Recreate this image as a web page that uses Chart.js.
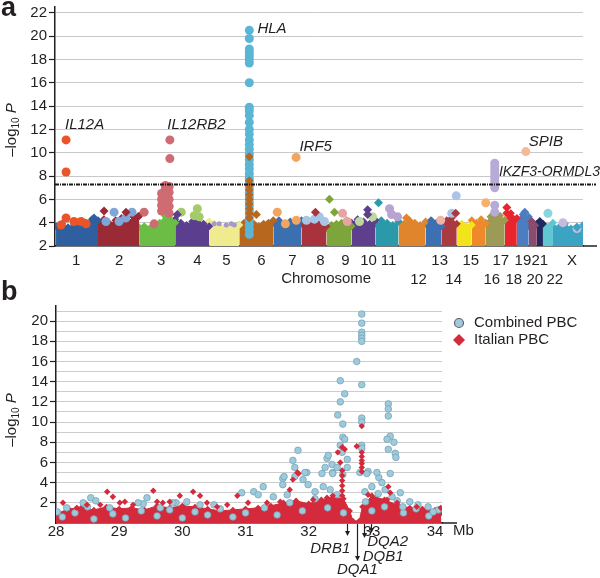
<!DOCTYPE html>
<html>
<head>
<meta charset="utf-8">
<script src="https://cdn.jsdelivr.net/npm/chart.js@4.4.1/dist/chart.umd.min.js"></script>
<style>
  html, body { margin: 0; padding: 0; background: #fff; }
  #wrap { position: relative; width: 600px; height: 578px; overflow: hidden; }
  canvas { position: absolute; left: 0; }
  #manhattan { top: 0; }
  #regional { top: 278px; }
</style>
</head>
<body>
<div id="wrap">
  <canvas id="manhattan" width="600" height="300"></canvas>
  <canvas id="regional" width="600" height="300"></canvas>
</div>
<script>
const FONT = '"Liberation Sans", Arial, Helvetica, sans-serif';
const INK = '#231f20';

// ---------- panel a : genome-wide scan ----------
const chromLabels = ['1','2','3','4','5','6','7','8','9','10','11','12','13','14','15','16','17','18','19','20','21','22','X'];
const secondRow = ['12','14','16','18','20','22'];
// cumulative start of each chromosome (last entry = end of X), genome units
const chromStart = [6, 249, 487, 696, 893, 1067, 1264, 1427, 1572, 1717, 1856, 1989, 2146, 2239, 2326, 2413, 2494, 2604, 2674, 2743, 2790, 2825, 2883, 3057];
const chromTickPos = [122, 371, 615, 824, 992, 1195, 1375, 1537, 1682, 1815, 1931, 2105, 2227, 2308, 2407, 2529, 2581, 2656, 2709, 2778, 2807, 2894, 2993];
// top of the dense band of each chromosome, read left to right
const massTops = [
  [3.7, 3.9, 3.6, 3.8, 3.7, 4.0, 4.3, 4.2],
  [4.0, 4.3, 3.9, 4.2, 4.4, 4.0, 4.5, 4.6],
  [3.6, 3.7, 3.5, 3.8, 4.0, 4.6, 4.7, 4.0],
  [4.3, 4.0, 3.8, 4.1, 4.2, 3.9, 3.7],
  [4.1, 3.9, 3.7, 3.6, 3.6, 3.7, 3.8],
  [3.8, 4.0, 4.3, 3.9, 3.7, 3.9, 4.0, 4.2],
  [4.0, 4.2, 3.9, 4.1, 3.8, 4.2],
  [3.9, 4.1, 3.8, 4.0, 4.3, 3.7],
  [3.5, 3.8, 3.9, 4.0, 4.2, 3.7],
  [4.0, 4.3, 4.1, 3.9, 4.2],
  [3.9, 4.2, 4.0, 3.8, 4.1],
  [4.1, 3.9, 4.2, 4.0, 3.8, 4.1],
  [3.9, 4.2, 4.0, 3.7],
  [3.8, 4.2, 4.4, 3.9],
  [3.8, 3.9, 3.7, 3.8],
  [4.2, 4.0, 4.3, 3.9],
  [4.0, 4.5, 4.8, 4.6, 4.2],
  [4.2, 4.8, 4.4],
  [4.3, 4.7, 4.5],
  [3.7, 3.9],
  [3.8, 3.9],
  [3.8, 4.0],
  [3.7, 3.6, 3.9, 3.5, 3.6, 3.8]
];
// [chromosome, position inside chromosome, -log10 P]
const combinedHits = [
  [1, 58, 11.1], [1, 58, 8.35], [1, 29, 3.8], [1, 58, 4.4], [1, 104, 4.1], [1, 145, 4.1], [1, 174, 3.9],
  [2, 93, 4.9], [2, 197, 4.9], [2, 122, 4.1], [2, 46, 4.1], [2, 160, 4.4],
  [3, 178, 11.1], [3, 178, 9.5],
  [3, 130, 5.0], [3, 130, 5.5], [3, 130, 6.0], [3, 130, 6.5],
  [3, 152, 5.2], [3, 152, 5.8], [3, 152, 6.4], [3, 152, 6.9], [3, 152, 7.2],
  [3, 174, 4.8], [3, 174, 5.4], [3, 174, 6.0], [3, 174, 6.6], [3, 174, 7.1],
  [3, 29, 4.9], [3, 87, 3.9],
  [4, 128, 5.2], [4, 139, 4.5], [4, 35, 4.9], [4, 110, 4.6],
  [5, 29, 3.9], [5, 58, 3.9], [5, 99, 3.8], [5, 128, 3.9], [5, 145, 3.8],
  [6, 58, 20.5], [6, 58, 19.8], [6, 58, 18.9], [6, 58, 18.6], [6, 58, 18.3], [6, 58, 18.0], [6, 58, 17.7],
  [6, 58, 16.0], [6, 58, 13.9], [6, 58, 13.6], [6, 58, 13.2], [6, 58, 12.6], [6, 58, 12.0], [6, 58, 11.6],
  [6, 58, 11.1], [6, 58, 10.7], [6, 58, 10.3], [6, 58, 9.9], [6, 58, 9.4], [6, 58, 9.0], [6, 58, 8.6],
  [6, 58, 8.2], [6, 58, 7.8], [6, 58, 7.4], [6, 58, 7.0], [6, 58, 6.6], [6, 58, 6.2], [6, 58, 5.8],
  [6, 58, 5.4], [6, 58, 5.0], [6, 58, 4.6], [6, 58, 4.2], [6, 58, 3.8], [6, 58, 3.4], [6, 58, 3.0],
  [7, 132, 9.6], [7, 23, 4.9], [7, 133, 4.2], [7, 70, 3.9],
  [8, 29, 4.2], [8, 104, 4.5], [8, 133, 4.1], [8, 75, 4.3],
  [9, 93, 4.8], [9, 120, 4.1],
  [10, 122, 4.5], [10, 46, 4.1],
  [11, 81, 5.2], [11, 93, 4.7], [11, 128, 4.5],
  [13, 87, 4.2],
  [14, 84, 6.3], [14, 58, 4.8],
  [16, 81, 5.7],
  [17, 52, 9.1], [17, 52, 8.8], [17, 52, 8.5], [17, 52, 8.2], [17, 52, 7.9], [17, 52, 7.6], [17, 52, 7.3], [17, 52, 7.0],
  [17, 52, 5.5], [17, 52, 4.9],
  [19, 52, 10.1],
  [22, 29, 4.8],
  [23, 58, 4.0], [23, 139, 3.5]
];
const italianHits = [
  [1, 220, 4.4], [2, 35, 5.0], [2, 162, 4.9], [2, 232, 4.5], [4, 12, 4.7],
  [6, 58, 9.65], [6, 58, 7.6], [6, 58, 7.2], [6, 58, 6.8], [6, 58, 6.4], [6, 58, 6.0], [6, 58, 5.6],
  [6, 58, 5.2], [6, 58, 4.8], [6, 58, 4.4], [6, 99, 4.7],
  [8, 81, 4.9], [9, 17, 6.0], [9, 46, 4.9], [10, 93, 5.1], [10, 93, 4.7], [11, 17, 5.7],
  [12, 46, 4.4], [13, 35, 4.1], [14, 81, 4.8], [18, 12, 5.3], [18, 12, 4.8], [19, 46, 4.9],
  [20, 17, 4.1], [21, 17, 4.1], [23, 139, 3.6]
];
const gwThreshold = 7.3;
// [gene, x (genome units), y (-log10 P)] anchors of the italic gene names
const geneLabelsA = [
  ['IL12A', 58, 12.4], ['IL12RB2', 650, 12.4], ['HLA', 1172, 20.6],
  ['IRF5', 1415, 10.5], ['SPIB', 2743, 10.9], ['IKZF3-ORMDL3', 2570, 8.35]
];

const darkColors = ['#2f5f9e','#9b2a37','#6cbd46','#5b3f8e','#efeb8e','#b8671f','#3b70b0','#a8333d','#7ea53c','#5e3f8e','#2a9aaa','#e0852b','#3c70b3','#a93a40','#f3e31c','#ef8a2a','#9d9a55','#e8252c','#4b7dc0','#8b4b6f','#1f2b5f','#60c6d2','#3ba4c3'];
const lightColors = ['#ea5428','#7ea6d8','#cf6b73','#a5ca6a','#a597cf','#5bb5d5','#f3a45e','#a9c5e5','#e8a3a2','#bcd8a0','#b8a3d2','#f4c08a','#f0b3a6','#a9c4e4','#f7ee7a','#f6b06a','#b8aad7','#f3908f','#f5b996','#c9a0c0','#8e9cc8','#8ad6df','#c6badf'];

// ---------- panel b : MHC region ----------
const regionTicks = [28, 29, 30, 31, 32, 33, 34];
const regionMassMb  = [28.0, 28.2, 28.4, 28.6, 28.8, 29.0, 29.2, 29.4, 29.6, 29.8, 30.0, 30.2, 30.4, 30.6, 30.8, 31.0, 31.2, 31.4, 31.6, 31.8, 32.0, 32.2, 32.4, 32.55, 32.65, 32.7, 32.8, 32.85, 33.0, 33.2, 33.4, 33.6, 33.8, 34.0, 34.1];
const regionMassTop = [0.9, 1.4, 1.5, 1.3, 1.6, 1.4, 1.5, 1.3, 1.7, 1.5, 1.7, 1.6, 1.4, 1.2, 1.3, 1.4, 1.5, 1.7, 2.0, 2.2, 1.9, 2.3, 2.6, 2.4, 1.2, 0.2, 0.2, 1.6, 2.7, 2.3, 1.8, 1.5, 1.4, 1.3, 1.0];
// [Mb, -log10 P]
const regionCombined = [
  [28.55, 2.5], [28.63, 2.2], [28.45, 1.9], [29.38, 1.9], [29.44, 2.5], [29.3, 2.0], [29.9, 2.0], [30.07, 2.1],
  [30.5, 1.8], [30.94, 3.0], [31.13, 3.1], [31.28, 3.6], [31.2, 2.8], [31.44, 2.6], [31.59, 4.4], [31.59, 3.8],
  [31.61, 4.6], [31.78, 4.6], [31.75, 6.2], [31.83, 7.2], [31.78, 5.5], [32.21, 4.9], [32.38, 5.0], [32.29, 6.4],
  [32.31, 6.7], [32.37, 5.8], [32.5, 7.7], [32.53, 7.0], [32.61, 6.3], [32.54, 9.8], [32.54, 8.5], [32.57, 8.3],
  [32.46, 10.7], [32.5, 12.0], [32.57, 12.8], [32.5, 14.1], [32.76, 16.0], [32.84, 20.7], [32.84, 19.8],
  [32.84, 18.9], [32.84, 18.6], [32.84, 18.3], [32.84, 18.0], [32.84, 13.7], [32.84, 10.4], [32.84, 10.0],
  [32.84, 7.7], [32.84, 7.4], [32.94, 5.1], [33.11, 4.5], [33.16, 4.0], [32.92, 4.9], [33.08, 5.0],
  [33.26, 11.8], [33.26, 11.3], [33.26, 10.6], [33.29, 8.6], [33.24, 8.3], [33.35, 8.0], [33.26, 7.3],
  [33.37, 6.9], [33.38, 6.5], [33.29, 4.9], [33.6, 2.1], [33.73, 1.8], [33.89, 1.6],
  [28.02, 1.1], [28.17, 1.5], [28.43, 2.0], [28.85, 1.5], [29.65, 1.5], [29.85, 2.0], [30.28, 1.8],
  [31.66, 2.8], [31.91, 4.3], [31.97, 5.0], [31.99, 3.8], [32.1, 3.1], [32.23, 3.6], [32.34, 3.3],
  [32.26, 5.5], [32.45, 5.5], [32.38, 4.9], [32.61, 5.5], [32.54, 4.8], [32.81, 5.0], [31.94, 5.0],
  [33.0, 3.6], [32.89, 3.1], [33.21, 3.3], [33.32, 2.6], [33.45, 3.0], [33.49, 1.6], [33.97, 1.1]
];
const regionCombinedLow = [
  [28.1, 0.6], [28.3, 1.0], [28.5, 1.6], [28.6, 0.4], [28.9, 0.9], [29.1, 0.5], [29.35, 1.2], [29.6, 0.7],
  [29.8, 1.3], [30.0, 0.5], [30.2, 1.1], [30.4, 0.8], [30.6, 1.4], [30.8, 0.6], [31.0, 1.0], [31.3, 1.5],
  [31.5, 0.8], [31.7, 2.0], [31.9, 1.2], [32.1, 2.4], [32.3, 1.5], [32.45, 2.8], [32.55, 1.0], [32.9, 2.1],
  [33.0, 1.2], [33.1, 2.9], [33.2, 1.6], [33.4, 2.2], [33.5, 1.0], [33.7, 1.4], [33.9, 0.7], [34.05, 1.3]
];
const regionItalian = [
  [28.11, 2.0], [28.33, 1.5], [28.49, 1.8], [28.7, 1.8], [28.81, 3.1], [28.9, 2.6], [29.01, 2.0], [29.09, 2.1],
  [29.22, 1.8], [29.54, 3.2], [29.6, 2.1], [29.69, 2.0], [29.8, 2.1], [29.96, 2.7], [30.17, 3.1], [30.28, 2.7],
  [30.39, 2.0], [30.55, 1.6], [30.71, 1.8], [30.87, 2.7], [31.04, 2.0], [31.34, 2.0], [31.55, 2.1], [31.7, 3.3],
  [31.75, 4.3], [31.82, 5.0], [31.84, 4.9], [32.07, 2.3], [32.29, 2.5], [32.38, 2.7],
  [32.53, 5.2], [32.53, 4.7], [32.53, 4.2], [32.53, 3.7], [32.53, 3.2], [32.53, 2.7],
  [32.46, 7.0], [32.53, 7.5], [32.57, 7.3], [32.5, 6.0], [32.76, 7.6], [32.84, 9.6],
  [32.84, 7.0], [32.84, 6.6], [32.84, 6.2], [32.84, 5.9], [32.84, 5.5], [32.84, 5.1],
  [32.94, 2.8], [33.05, 2.3], [33.26, 3.6], [33.29, 3.0], [33.24, 2.3], [33.4, 2.0], [33.71, 1.6], [34.09, 1.5]
];
const hlaGenes = [['DRB1', 32.61], ['DQA1', 32.77], ['DQB1', 32.87], ['DQA2', 32.99]];

const BLUE_FILL = '#9dcbdc', BLUE_EDGE = '#76a3b6', RED = '#d42a3c';

// draws "–log10 P" rotated, centred on (cx, cy)
function drawLogTitle(ctx, cx, cy) {
  const parts = [['\u2013log', '15px ' + FONT, 0], ['10', '10px ' + FONT, 4], [' P', 'italic 15px ' + FONT, 0]];
  ctx.save();
  ctx.translate(cx, cy);
  ctx.rotate(-Math.PI / 2);
  ctx.fillStyle = INK;
  ctx.textBaseline = 'middle';
  let w = 0;
  parts.forEach(p => { ctx.font = p[1]; w += ctx.measureText(p[0]).width; });
  let x = -w / 2;
  parts.forEach(p => { ctx.font = p[1]; ctx.fillText(p[0], x, p[2]); x += ctx.measureText(p[0]).width; });
  ctx.restore();
}

const manhattanDecor = {
  id: 'manhattanDecor',
  afterDatasetsDraw(chart) {
    const { ctx, chartArea, scales: { x, y } } = chart;
    ctx.save();
    ctx.strokeStyle = '#1a1a1a';
    ctx.lineWidth = 2;
    ctx.setLineDash([4, 1, 1, 1]);
    const ty = Math.round(y.getPixelForValue(gwThreshold)) + 0.5;
    ctx.beginPath(); ctx.moveTo(chartArea.left, ty); ctx.lineTo(596, ty); ctx.stroke();
    ctx.setLineDash([]);
    ctx.fillStyle = INK;
    ctx.textBaseline = 'middle';
    geneLabelsA.forEach(([t, gx, gy]) => {
      ctx.font = (t.length > 8 ? 'italic 14px ' : 'italic 15px ') + FONT;
      ctx.fillText(t, x.getPixelForValue(gx), y.getPixelForValue(gy));
    });
    ctx.restore();
  },
  afterDraw(chart) {
    const { ctx, chartArea, scales: { x } } = chart;
    ctx.save();
    ctx.strokeStyle = INK; ctx.lineWidth = 1.5;
    ctx.beginPath(); ctx.moveTo(chartArea.right, chartArea.bottom); ctx.lineTo(597, chartArea.bottom); ctx.stroke();
    ctx.fillStyle = INK;
    ctx.font = '15px ' + FONT;
    ctx.textAlign = 'center'; ctx.textBaseline = 'middle';
    ctx.fillText('Chromosome', x.getPixelForValue(1570), chartArea.bottom + 33);
    ctx.textAlign = 'left'; ctx.textBaseline = 'alphabetic';
    ctx.font = 'bold 27px ' + FONT;
    ctx.fillText('a', 1, 16);
    ctx.restore();
    drawLogTitle(ctx, 12, 130);
  }
};

const massSets = massTops.map((tops, c) => {
  const a = chromStart[c], b = chromStart[c + 1];
  return {
    type: 'line',
    data: tops.map((v, i) => ({ x: a + (b - a) * i / (tops.length - 1), y: v })),
    borderColor: darkColors[c],
    backgroundColor: darkColors[c],
    borderWidth: 1,
    fill: 'start',
    tension: 0,
    pointStyle: 'rectRot',
    pointRadius: 4,
    pointBackgroundColor: darkColors[c],
    pointBorderWidth: 0,
    order: 3
  };
});

const combinedSet = {
  data: combinedHits.map(([c, p, v]) => ({ x: chromStart[c - 1] + p, y: v })),
  pointStyle: 'circle',
  pointRadius: combinedHits.map(([c]) => c === 5 ? 2.5 : 4.5),
  backgroundColor: combinedHits.map(([c]) => lightColors[c - 1]),
  borderWidth: 0,
  order: 2
};
const italianSet = {
  data: italianHits.map(([c, p, v]) => ({ x: chromStart[c - 1] + p, y: v })),
  pointStyle: 'rectRot',
  pointRadius: 4.5,
  backgroundColor: italianHits.map(([c]) => darkColors[c - 1]),
  borderWidth: 0,
  order: 1
};

new Chart(document.getElementById('manhattan'), {
  type: 'scatter',
  data: { datasets: [italianSet, combinedSet, ...massSets] },
  options: {
    responsive: false,
    animation: false,
    events: [],
    layout: { padding: { left: 0, right: 17, top: 7, bottom: 0 } },
    plugins: { legend: { display: false }, tooltip: { enabled: false } },
    scales: {
      x: {
        type: 'linear', min: 0, max: chromStart[chromStart.length - 1],
        grid: { display: false, drawTicks: false },
        border: { color: INK, width: 1.5 },
        ticks: {
          autoSkip: false, maxRotation: 0, minRotation: 0, padding: 5, color: INK,
          font: { family: FONT, size: 15, lineHeight: 1.27 },
          callback: (v, i) => secondRow.includes(chromLabels[i]) ? ['', chromLabels[i]] : chromLabels[i]
        },
        afterBuildTicks: s => { s.ticks = chromTickPos.map(v => ({ value: v })); },
        afterFit: s => { s.height = 54; s.paddingLeft = 0; s.paddingRight = 0; }
      },
      y: {
        min: 2, max: 22.5,
        ticks: { stepSize: 2, includeBounds: false, padding: 2, color: INK, font: { family: FONT, size: 15 } },
        grid: { color: '#c9c9c9', lineWidth: 1, tickLength: 6, tickColor: INK, tickWidth: 1.2 },
        border: { color: INK, width: 1.5 },
        afterFit: s => { s.width = 55; s.paddingTop = 0; s.paddingBottom = 0; }
      }
    }
  },
  plugins: [manhattanDecor]
});

// ---------- panel b chart ----------
const regionDecor = {
  id: 'regionDecor',
  afterDraw(chart) {
    const { ctx, chartArea, scales: { x } } = chart;
    const base = chartArea.bottom;
    ctx.save();
    ctx.strokeStyle = INK; ctx.lineWidth = 1.5;
    ctx.beginPath(); ctx.moveTo(chartArea.right, base); ctx.lineTo(457, base); ctx.stroke();
    ctx.fillStyle = INK;
    ctx.font = '15px ' + FONT;
    ctx.textBaseline = 'middle';
    ctx.fillText('Mb', 453, base + 8);

    // gene arrows under the axis
    const arrowEnd = [12, 37, 14, 9];
    ctx.lineWidth = 1.2;
    hlaGenes.forEach(([g, mb], i) => {
      const gx = Math.round(x.getPixelForValue(mb)) + 0.5;
      const ey = base + arrowEnd[i];
      ctx.beginPath(); ctx.moveTo(gx, base + 1); ctx.lineTo(gx, ey - 3); ctx.stroke();
      ctx.beginPath(); ctx.moveTo(gx - 2.5, ey - 4); ctx.lineTo(gx + 2.5, ey - 4); ctx.lineTo(gx, ey + 1); ctx.closePath(); ctx.fill();
    });
    ctx.font = 'italic 15px ' + FONT;
    const px = hlaGenes.map(([, mb]) => x.getPixelForValue(mb));
    ctx.textAlign = 'right'; ctx.fillText('DRB1', px[0] + 3, base + 26);
    ctx.textAlign = 'center'; ctx.fillText('DQA1', px[1], base + 47);
    ctx.textAlign = 'left'; ctx.fillText('DQB1', px[2] - 1, base + 34);
    ctx.fillText('DQA2', px[3] - 4, base + 19);

    // legend
    ctx.font = '15px ' + FONT;
    ctx.fillText('Combined PBC', 474, 45);
    ctx.fillText('Italian PBC', 474, 62);
    ctx.beginPath(); ctx.arc(459, 45, 4.5, 0, Math.PI * 2);
    ctx.fillStyle = BLUE_FILL; ctx.fill();
    ctx.strokeStyle = '#6b5a6e'; ctx.lineWidth = 1.2; ctx.stroke();
    ctx.beginPath(); ctx.moveTo(459, 56); ctx.lineTo(465, 62); ctx.lineTo(459, 68); ctx.lineTo(453, 62); ctx.closePath();
    ctx.fillStyle = RED; ctx.fill();

    ctx.fillStyle = INK;
    ctx.textAlign = 'left'; ctx.textBaseline = 'alphabetic';
    ctx.font = 'bold 27px ' + FONT;
    ctx.fillText('b', 1, 22);
    ctx.restore();
    drawLogTitle(ctx, 12, 142);
  }
};

new Chart(document.getElementById('regional'), {
  type: 'scatter',
  data: {
    datasets: [
      { data: regionItalian.map(([m, v]) => ({ x: m, y: v })), pointStyle: 'rectRot', pointRadius: 3.2, backgroundColor: RED, borderWidth: 0, order: 1 },
      { data: regionCombined.map(([m, v]) => ({ x: m, y: v })), pointStyle: 'circle', pointRadius: 3.3, backgroundColor: BLUE_FILL, borderColor: BLUE_EDGE, borderWidth: 0.8, order: 2 },
      { data: regionCombinedLow.map(([m, v]) => ({ x: m, y: v })), pointStyle: 'circle', pointRadius: 3.3, backgroundColor: BLUE_FILL, borderColor: BLUE_EDGE, borderWidth: 0.8, order: 3 },
      { type: 'line', data: regionMassMb.map((m, i) => ({ x: m, y: regionMassTop[i] })), borderColor: RED, backgroundColor: RED, borderWidth: 1, fill: 'origin', tension: 0, pointStyle: 'rectRot', pointRadius: 3.2, pointBackgroundColor: RED, pointBorderWidth: 0, order: 4 }
    ]
  },
  options: {
    responsive: false,
    animation: false,
    events: [],
    layout: { padding: { left: 0, right: 158, top: 28, bottom: 0 } },
    plugins: { legend: { display: false }, tooltip: { enabled: false } },
    scales: {
      x: {
        type: 'linear', min: 28, max: 34.11,
        grid: { display: false, drawTicks: false },
        border: { color: INK, width: 1.5 },
        ticks: { stepSize: 1, includeBounds: false, autoSkip: false, maxRotation: 0, padding: 1, color: INK, font: { family: FONT, size: 15, lineHeight: 1 } },
        afterBuildTicks: s => { s.ticks = regionTicks.map(v => ({ value: v })); },
        afterFit: s => { s.height = 55; s.paddingLeft = 0; s.paddingRight = 0; }
      },
      y: {
        min: 0, max: 21.5,
        ticks: {
          stepSize: 1, includeBounds: false, autoSkip: false, padding: 2, color: INK, font: { family: FONT, size: 15 },
          callback: v => (v >= 2 && v % 2 === 0) ? String(v) : ''
        },
        grid: {
          color: '#cdcdcd', lineWidth: 1, tickLength: 6, tickWidth: 1.2,
          tickColor: c => (c.tick && c.tick.value >= 2 && c.tick.value % 2 === 0) ? INK : 'rgba(0,0,0,0)'
        },
        border: { color: INK, width: 1.5 },
        afterFit: s => { s.width = 56; s.paddingTop = 0; s.paddingBottom = 0; }
      }
    }
  },
  plugins: [regionDecor]
});
</script>
</body>
</html>
